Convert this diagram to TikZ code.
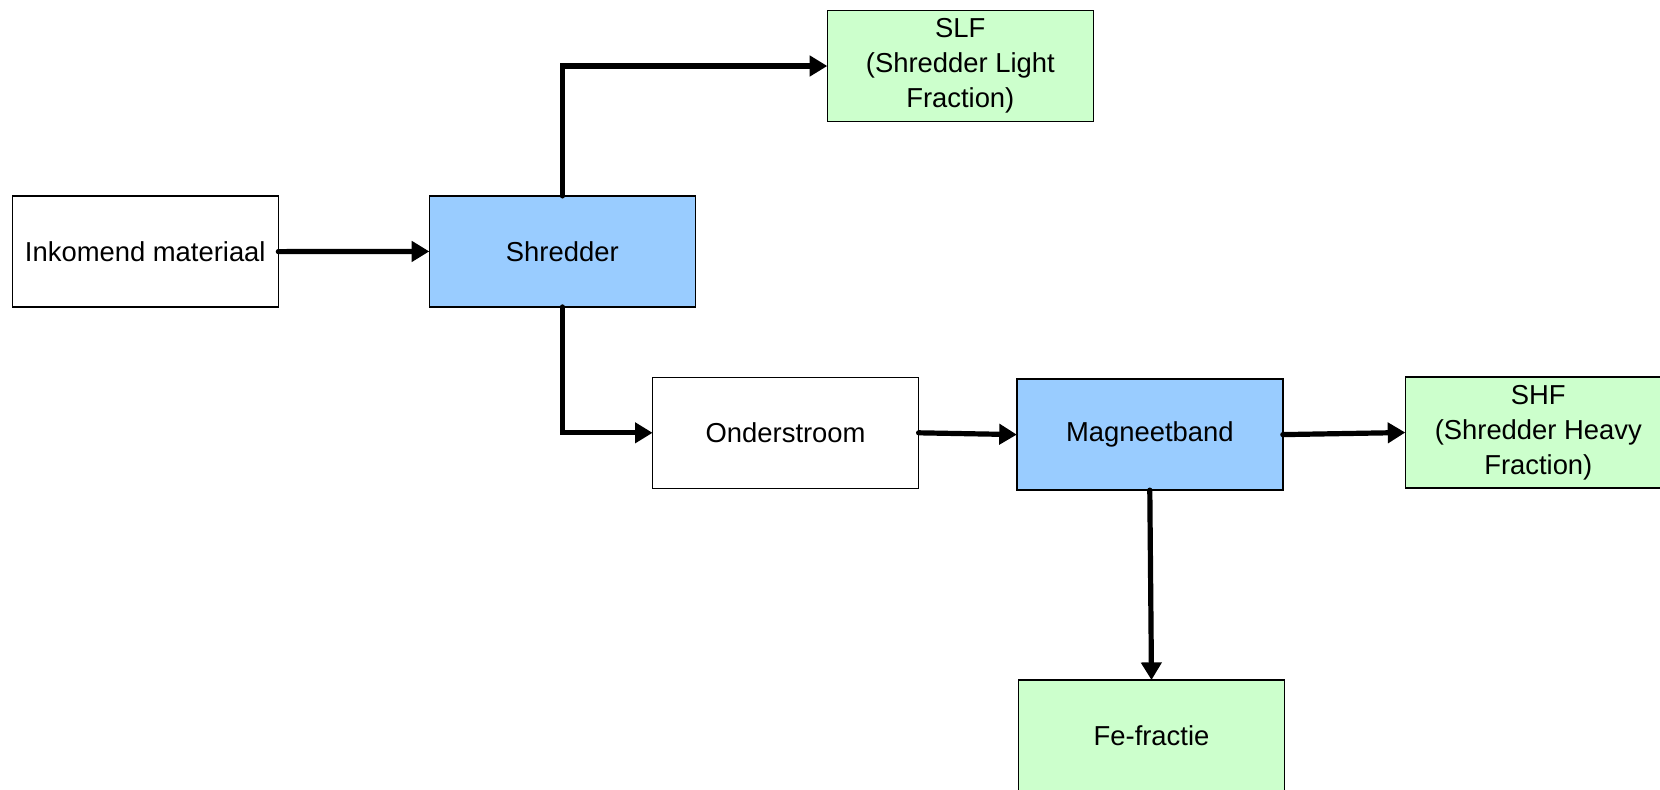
\documentclass[tikz,border=0pt]{standalone}
\usepackage{fontspec}
\setmainfont{Liberation Sans}
\usetikzlibrary{arrows.meta}
\definecolor{procblue}{HTML}{99CCFF}
\definecolor{outgreen}{HTML}{CCFFCC}
\newlength{\myboxlinewidth}
\setlength{\myboxlinewidth}{0.75pt}
\newlength{\myflowlinewidth}
\setlength{\myflowlinewidth}{2.6pt}

\begin{document}
\begin{tikzpicture}[%
        x=0.5pt,y=-0.5pt,%
        box/.style={%
            rectangle,draw,
            line width=\myboxlinewidth,
            anchor=center,
            inner sep=2pt,outer sep=0pt,
            align=center,
            font=\fontsize{13.7}{17.5}\selectfont,
            minimum width=133pt,
            minimum height=55.5pt,
            fill=white,
            },
        procbox/.style={box,fill=procblue},
        outbox/.style={box,fill=outgreen},
        flow/.style={%
            line width=\myflowlinewidth,
            line cap=round,
            -{Triangle[length=8.8pt,width=10pt]},
            }
    ]
        \clip (0,0) rectangle (1660,789);
        % nodes
        \node[box]     (inkomend)    at (145.3,251.6) {Inkomend materiaal};
        \node[procbox] (shredder)    at (562.3,251.4) {Shredder};
        \node[outbox]  (slf)         at (960.3,66)    {SLF\\(Shredder Light\\Fraction)};
        \node[box]     (onderstroom) at (785.6,432.8) {Onderstroom};
        \node[procbox] (magneetband) at (1149.8,434.6) {Magneetband};
        \node[outbox]  (shf)         at (1538.3,432.5) {SHF\\(Shredder Heavy\\Fraction)};
        \node[outbox]  (fe)          at (1151.5,735.5) {Fe-fractie};
        % connectors
        \draw[flow] (inkomend.east) -- (shredder.west);
        \draw[flow] (shredder.north) |- (slf.west);
        \draw[flow] (shredder.south) |- (onderstroom.west);
        \draw[flow] (onderstroom.east) -- (magneetband.west);
        \draw[flow] (magneetband.east) -- (shf.west);
        \draw[flow] (magneetband.south) -- (fe.north);
\end{tikzpicture}
\end{document}
